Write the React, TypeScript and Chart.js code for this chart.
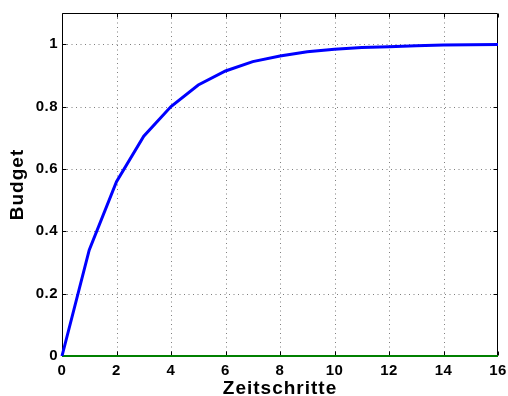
import React, { useEffect, useRef } from "react";
import { Chart, registerables } from "chart.js";

Chart.register(...registerables);

const steps = [0, 1, 2, 3, 4, 5, 6, 7, 8, 9, 10, 11, 12, 13, 14, 15, 16];
const budget = [0, 0.34, 0.559, 0.705, 0.8, 0.869, 0.914, 0.944, 0.962, 0.976, 0.984, 0.989, 0.992, 0.995, 0.997, 0.998, 0.999];
const zeroLine = [0, 0, 0, 0, 0, 0, 0, 0, 0, 0, 0, 0, 0, 0, 0, 0, 0];
const xTicks = [0, 2, 4, 6, 8, 10, 12, 14, 16];
const yTicks = [0, 0.2, 0.4, 0.6, 0.8, 1];
const xTickLabels = ["0", "2", "4", "6", "8", "10", "12", "14", "16"];
const yTickLabels = ["0", "0.2", "0.4", "0.6", "0.8", "1"];

const FONT = '"Liberation Sans", Arial, Helvetica, sans-serif';

const matlabAxes = {
  id: "matlabAxes",
  beforeDraw(chart: any) {
    const ctx = chart.ctx;
    if (!ctx.__lsWrapped) {
      const orig = ctx.fillText;
      ctx.fillText = function (t: string, x: number, y: number, mw?: number) {
        this.letterSpacing = this.font.indexOf("19px") >= 0 ? "1px" : "0.5px";
        return mw === undefined ? orig.call(this, t, x, y) : orig.call(this, t, x, y, mw);
      };
      ctx.__lsWrapped = true;
    }
  },
  beforeDatasetsDraw(chart: any) {
    const { ctx, chartArea } = chart;
    const xs = chart.scales.x;
    const ys = chart.scales.y;
    const L = Math.round(chartArea.left) + 0.5;
    const R = Math.round(chartArea.right) - 0.5;
    const T = Math.round(chartArea.top) + 0.5;
    const B = Math.round(chartArea.bottom) - 0.5;
    ctx.save();
    ctx.lineWidth = 1;
    ctx.strokeStyle = "rgba(0,0,0,0.5)";
    ctx.setLineDash([1, 3.5]);
    xTicks.forEach((v) => {
      if (v === 0 || v === 16) return;
      const px = Math.round(xs.getPixelForValue(v)) + 0.5;
      ctx.beginPath();
      ctx.moveTo(px, T);
      ctx.lineTo(px, B);
      ctx.stroke();
    });
    yTicks.forEach((v) => {
      if (v === 0) return;
      const py = Math.round(ys.getPixelForValue(v)) + 0.5;
      ctx.beginPath();
      ctx.moveTo(L, py);
      ctx.lineTo(R, py);
      ctx.stroke();
    });
    ctx.setLineDash([]);
    ctx.strokeStyle = "#000";
    ctx.beginPath();
    ctx.rect(L, T, R - L, B - T);
    ctx.stroke();
    const tl = 4;
    xTicks.forEach((v) => {
      const px = Math.round(xs.getPixelForValue(v)) + 0.5;
      ctx.beginPath();
      ctx.moveTo(px, B);
      ctx.lineTo(px, B - tl);
      ctx.moveTo(px, T);
      ctx.lineTo(px, T + tl);
      ctx.stroke();
    });
    yTicks.forEach((v) => {
      const py = Math.round(ys.getPixelForValue(v)) + 0.5;
      ctx.beginPath();
      ctx.moveTo(L, py);
      ctx.lineTo(L + tl, py);
      ctx.moveTo(R, py);
      ctx.lineTo(R - tl, py);
      ctx.stroke();
    });
    ctx.restore();
  },
};

export default function App() {
  const ref = useRef<HTMLCanvasElement | null>(null);
  useEffect(() => {
    if (!ref.current) return;
    const chart = new Chart(ref.current, {
      type: "line",
      data: {
        datasets: [
          {
            data: steps.map((s, i) => ({ x: s, y: budget[i] })),
            borderColor: "#0000ff",
            borderWidth: 3,
            pointRadius: 0,
            tension: 0,
            clip: false as any,
          },
          {
            data: steps.map((s, i) => ({ x: s, y: zeroLine[i] })),
            borderColor: "#008000",
            borderWidth: 2,
            pointRadius: 0,
            tension: 0,
            clip: false as any,
          },
        ],
      },
      options: {
        animation: false,
        responsive: false,
        events: [],
        layout: { padding: { top: 13, right: 10, left: 0, bottom: 0 } },
        plugins: { legend: { display: false }, tooltip: { enabled: false } },
        scales: {
          x: {
            type: "linear",
            min: 0,
            max: 16,
            afterBuildTicks: (s: any) => {
              s.ticks = xTicks.map((v) => ({ value: v }));
            },
            afterFit: (s: any) => {
              s.height = 40;
              s.paddingLeft = 0;
              s.paddingRight = 0;
            },
            grid: { display: false, drawTicks: false },
            border: { display: false },
            ticks: {
              color: "#000",
              padding: 5.5,
              maxRotation: 0,
              autoSkip: false,
              callback: (_v: any, i: number) => xTickLabels[i],
              font: { family: FONT, size: 15, weight: "bold", lineHeight: 1.2 },
            },
            title: {
              display: true,
              text: "Zeitschritte",
              color: "#000",
              padding: 0,
              font: { family: FONT, size: 19, weight: "bold", lineHeight: 0.74 },
            },
          },
          y: {
            type: "linear",
            min: 0,
            max: 1.1,
            afterBuildTicks: (s: any) => {
              s.ticks = yTicks.map((v) => ({ value: v }));
            },
            afterFit: (s: any) => {
              s.width = 62;
              s.paddingTop = 0;
              s.paddingBottom = 0;
            },
            grid: { display: false, drawTicks: false },
            border: { display: false },
            ticks: {
              color: "#000",
              padding: 4,
              autoSkip: false,
              callback: (_v: any, i: number) => yTickLabels[i],
              font: { family: FONT, size: 15, weight: "bold", lineHeight: 1.2 },
            },
            title: {
              display: true,
              text: "Budget",
              color: "#000",
              padding: { top: 6, bottom: 0 },
              font: { family: FONT, size: 19, weight: "bold", lineHeight: 1.2 },
            },
          },
        },
      },
      plugins: [matlabAxes],
    });
    return () => chart.destroy();
  }, []);
  return (
    <div style={{ position: "absolute", left: 0, top: 0, width: 508, height: 396, background: "#fff" }}>
      <canvas ref={ref} width={508} height={396} style={{ display: "block" }} />
    </div>
  );
}
